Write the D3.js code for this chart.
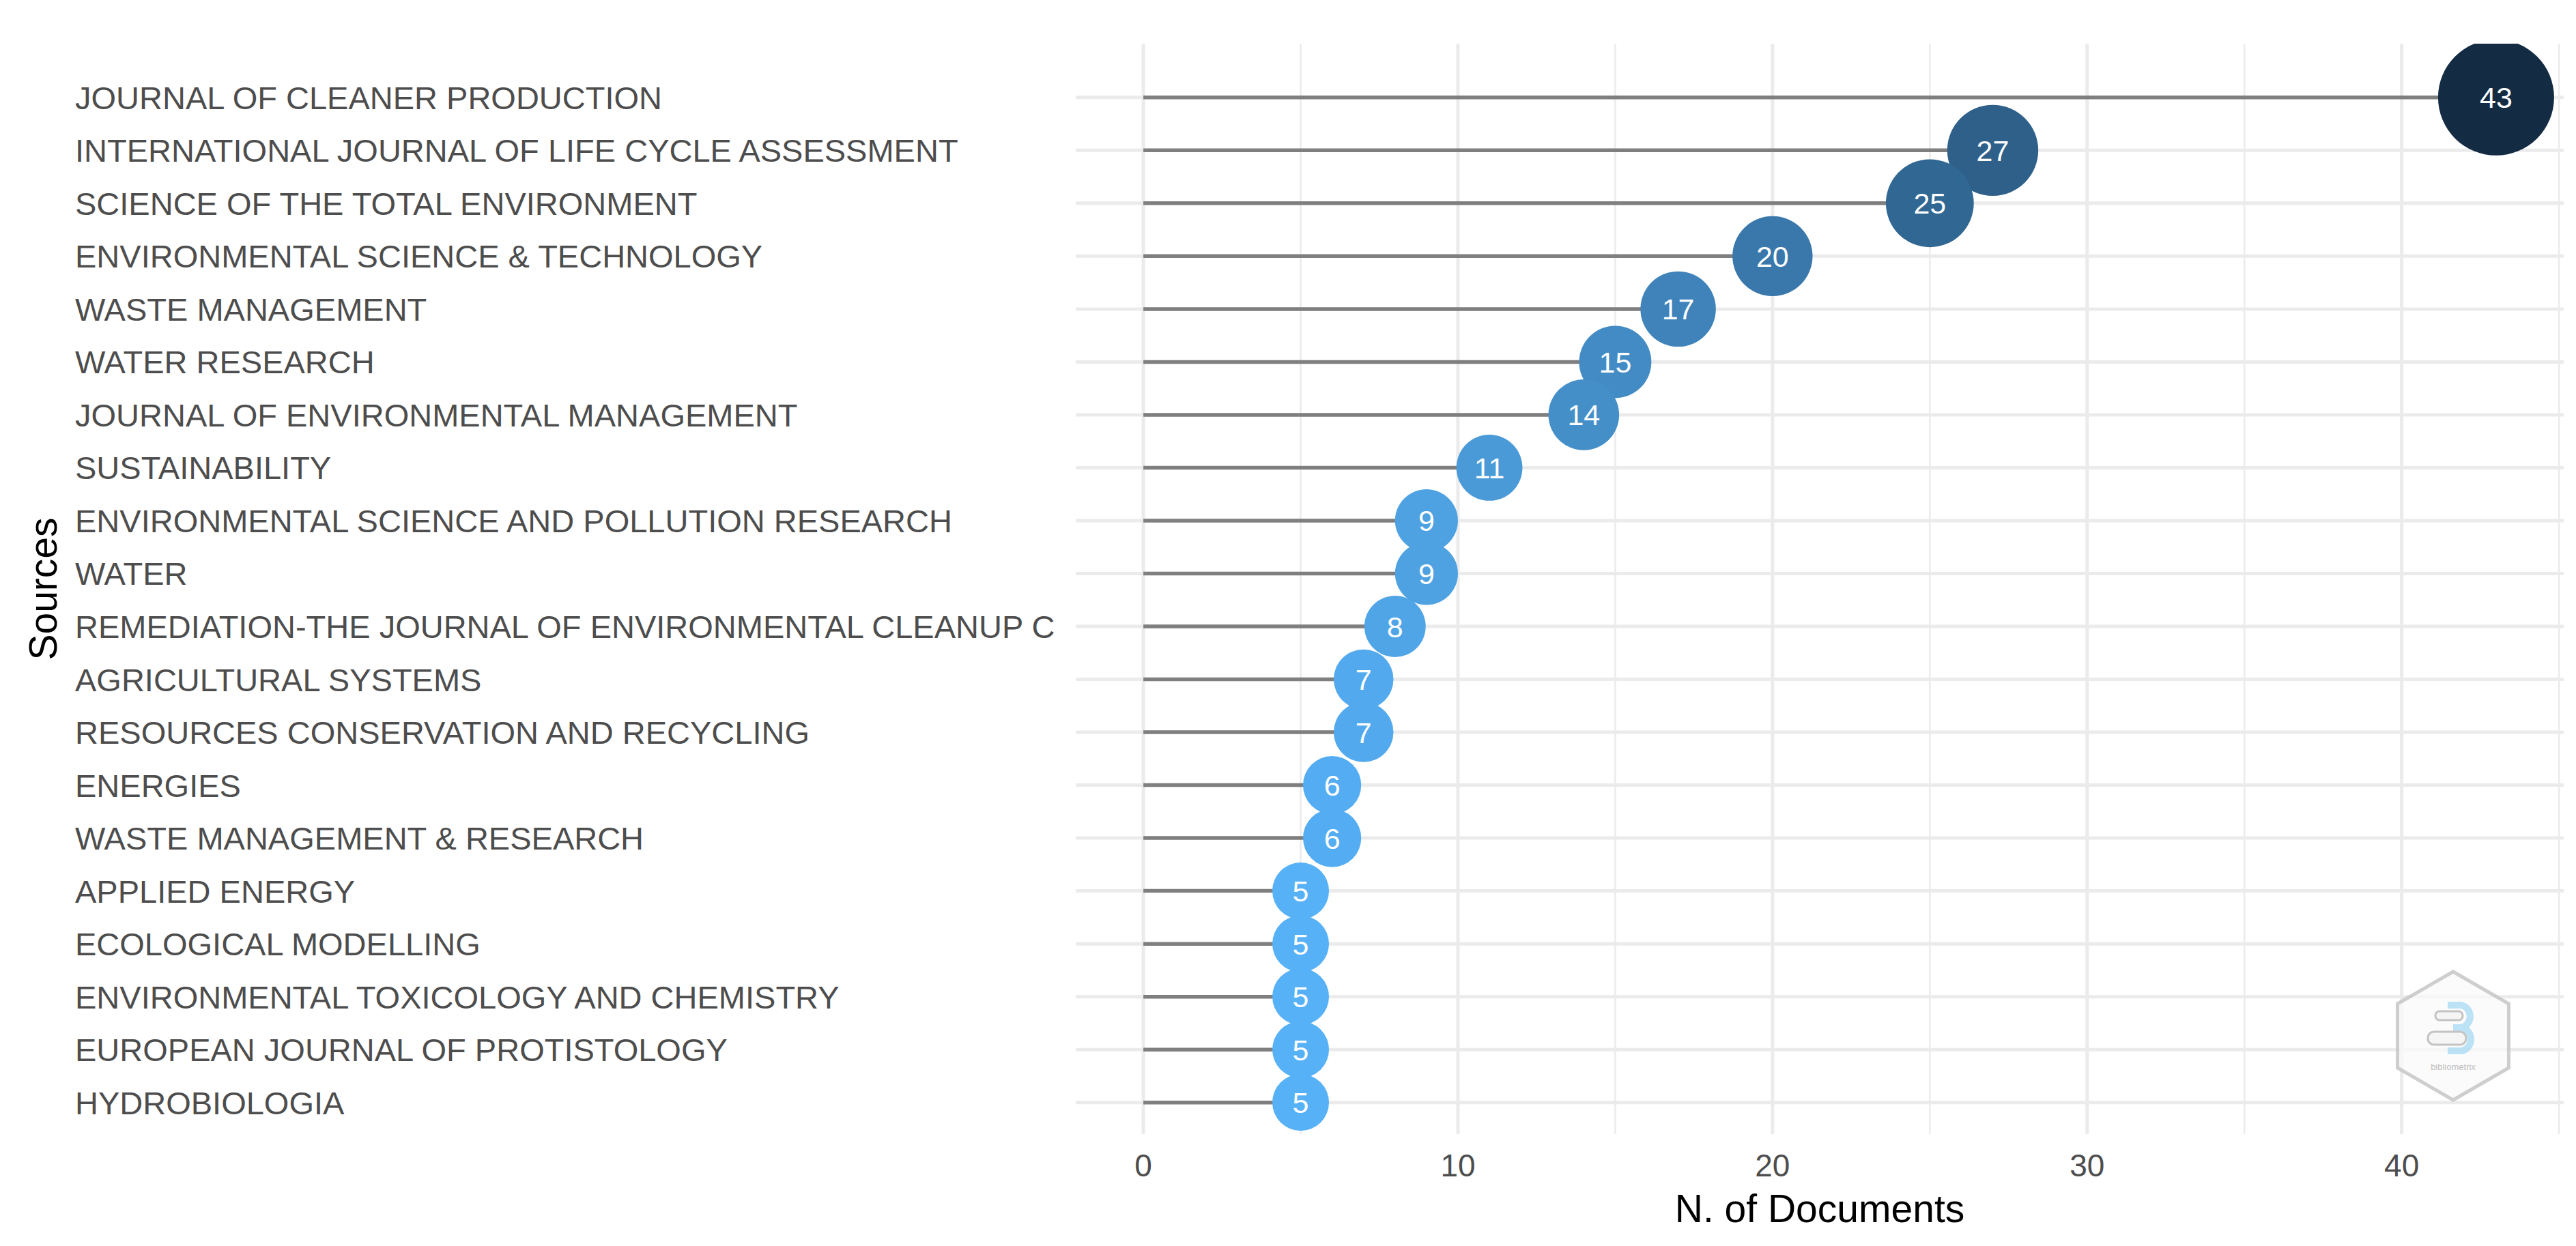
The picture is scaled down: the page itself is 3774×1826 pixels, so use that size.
<!DOCTYPE html>
<html>
<head>
<meta charset="utf-8">
<script src="https://cdn.jsdelivr.net/npm/d3@7"></script>
<style>
  html, body { margin: 0; padding: 0; background: #fff; }
  svg { display: block; font-family: "Liberation Sans", Arial, sans-serif; }
</style>
</head>
<body>
<svg id="chart"></svg>
<script>
// ---------- DATA --------------------------------------------------------
const sources = [
  'JOURNAL OF CLEANER PRODUCTION',
  'INTERNATIONAL JOURNAL OF LIFE CYCLE ASSESSMENT',
  'SCIENCE OF THE TOTAL ENVIRONMENT',
  'ENVIRONMENTAL SCIENCE & TECHNOLOGY',
  'WASTE MANAGEMENT',
  'WATER RESEARCH',
  'JOURNAL OF ENVIRONMENTAL MANAGEMENT',
  'SUSTAINABILITY',
  'ENVIRONMENTAL SCIENCE AND POLLUTION RESEARCH',
  'WATER',
  'REMEDIATION-THE JOURNAL OF ENVIRONMENTAL CLEANUP C',
  'AGRICULTURAL SYSTEMS',
  'RESOURCES CONSERVATION AND RECYCLING',
  'ENERGIES',
  'WASTE MANAGEMENT & RESEARCH',
  'APPLIED ENERGY',
  'ECOLOGICAL MODELLING',
  'ENVIRONMENTAL TOXICOLOGY AND CHEMISTRY',
  'EUROPEAN JOURNAL OF PROTISTOLOGY',
  'HYDROBIOLOGIA'
];
const counts = [43, 27, 25, 20, 17, 15, 14, 11, 9, 9, 8, 7, 7, 6, 6, 5, 5, 5, 5, 5];
const majorTicks = [0, 10, 20, 30, 40];
const minorTicks = [5, 15, 25, 35, 45];

// ---------- LAYOUT ------------------------------------------------------
const W = 3774, H = 1826;
const P = {left: 1576, right: 3756, top: 64, bottom: 1662};   // panel
const ROW_TOP = 142.8, ROW_BOT = 1615.7;
const LOW = '#56B1F7', HIGH = '#132B43';

const data = sources.map((s, i) => ({source: s, n: counts[i]}));

const svg = d3.select('#chart').attr('width', W).attr('height', H)
  .attr('viewBox', `0 0 ${W} ${H}`);

// scales
const nMax = d3.max(counts), pad = nMax * 0.05;
const x = d3.scaleLinear().domain([-pad, nMax + pad]).range([P.left, P.right]);
const y = d3.scalePoint().domain(sources).range([ROW_TOP, ROW_BOT]);
const r = d3.scaleLinear().domain(d3.extent(counts)).range([41.5, 85]);
const col = d3.scaleLinear().domain(d3.extent(counts)).range([LOW, HIGH])
  .interpolate(d3.interpolateLab);

svg.append('defs').append('clipPath').attr('id', 'panel')
  .append('rect').attr('x', P.left).attr('y', P.top)
  .attr('width', P.right - P.left).attr('height', P.bottom - P.top);

// ---------- GRID --------------------------------------------------------
const grid = svg.append('g');
grid.selectAll('line.minor').data(minorTicks).enter().append('line')
  .attr('x1', d => x(d)).attr('x2', d => x(d))
  .attr('y1', P.top).attr('y2', P.bottom)
  .attr('stroke', '#EBEBEB').attr('stroke-width', 2.5);
grid.selectAll('line.major').data(majorTicks).enter().append('line')
  .attr('x1', d => x(d)).attr('x2', d => x(d))
  .attr('y1', P.top).attr('y2', P.bottom)
  .attr('stroke', '#EBEBEB').attr('stroke-width', 5);
grid.selectAll('line.row').data(sources).enter().append('line')
  .attr('x1', P.left).attr('x2', P.right)
  .attr('y1', d => y(d)).attr('y2', d => y(d))
  .attr('stroke', '#EBEBEB').attr('stroke-width', 5);

// ---------- LOLLIPOPS ---------------------------------------------------
const plot = svg.append('g').attr('clip-path', 'url(#panel)');
plot.selectAll('line.seg').data(data).enter().append('line')
  .attr('x1', x(0)).attr('x2', d => x(d.n))
  .attr('y1', d => y(d.source)).attr('y2', d => y(d.source))
  .attr('stroke', '#7F7F7F').attr('stroke-width', 5.5);
plot.selectAll('circle').data(data).enter().append('circle')
  .attr('cx', d => x(d.n)).attr('cy', d => y(d.source))
  .attr('r', d => r(d.n)).attr('fill', d => col(d.n));
plot.selectAll('text').data(data).enter().append('text')
  .attr('x', d => x(d.n)).attr('y', d => y(d.source) + 15.5)
  .attr('text-anchor', 'middle').attr('fill', '#fff')
  .attr('font-size', 43).text(d => d.n);

// ---------- AXES --------------------------------------------------------
svg.append('g').selectAll('text').data(sources).enter().append('text')
  .attr('x', 110).attr('y', d => y(d) + 17)
  .attr('fill', '#4D4D4D').attr('font-size', 47).text(d => d);

svg.append('g').selectAll('text').data(majorTicks).enter().append('text')
  .attr('x', d => x(d)).attr('y', 1724)
  .attr('text-anchor', 'middle').attr('fill', '#4D4D4D')
  .attr('font-size', 46).text(d => d);

svg.append('text')
  .attr('x', (P.left + P.right) / 2).attr('y', 1791)
  .attr('text-anchor', 'middle').attr('fill', '#000')
  .attr('font-size', 57).text('N. of Documents');

svg.append('text')
  .attr('transform', `translate(83,${(P.top + P.bottom) / 2}) rotate(-90)`)
  .attr('text-anchor', 'middle').attr('fill', '#000')
  .attr('font-size', 57).text('Sources');

// ---------- LOGO (watermark) --------------------------------------------
const lx = 3594, ly = 1518, lr = 94;
const logo = svg.append('g').attr('opacity', 0.9);
const hex = d3.range(6).map(k => {
  const a = Math.PI / 2 + k * Math.PI / 3;
  return [lx + lr * Math.cos(a), ly - lr * Math.sin(a)];
});
logo.append('polygon').attr('points', hex.map(p => p.join(',')).join(' '))
  .attr('fill', '#FAFAFA').attr('fill-opacity', 0.85)
  .attr('stroke', '#C9C9C9').attr('stroke-width', 5);
logo.append('path')
  .attr('d', `M${lx-8},${ly-45} H${lx+12} A17,17 0 0 1 ${lx+12},${ly-12} H${lx}
              M${lx},${ly-12} H${lx+14} A18,18 0 0 1 ${lx+14},${ly+22} H${lx-8}`)
  .attr('fill', 'none').attr('stroke', '#B5DFF6').attr('stroke-width', 10);
logo.append('rect').attr('x', lx - 26).attr('y', ly - 36).attr('width', 40).attr('height', 13)
  .attr('rx', 6).attr('fill', '#F4F4F4').attr('stroke', '#BDBDBD').attr('stroke-width', 3);
logo.append('rect').attr('x', lx - 37).attr('y', ly - 6).attr('width', 56).attr('height', 19)
  .attr('rx', 9).attr('fill', '#F4F4F4').attr('stroke', '#BDBDBD').attr('stroke-width', 3);
logo.append('text').attr('x', lx).attr('y', ly + 50).attr('text-anchor', 'middle')
  .attr('font-size', 13).attr('fill', '#B8B8B8').text('bibliometrix');
</script>
</body>
</html>
